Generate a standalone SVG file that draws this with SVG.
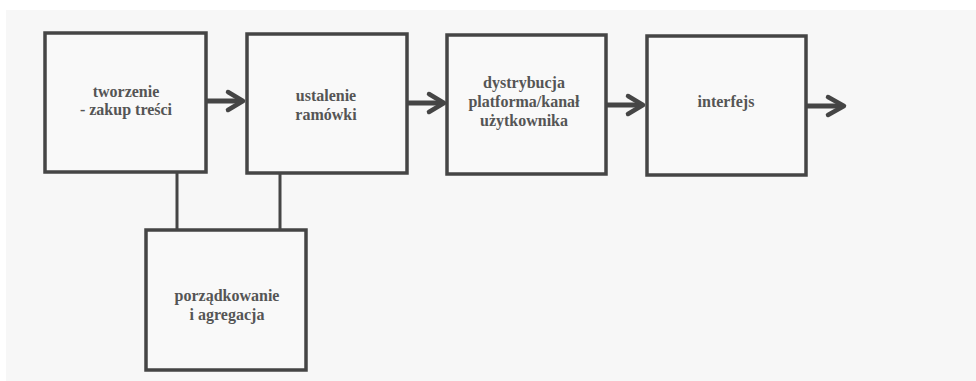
<svg xmlns="http://www.w3.org/2000/svg" width="976" height="381" viewBox="0 0 976 381">
<defs>
<style>
.box{fill:#f9f9f9;stroke:#454545;stroke-width:3.5}
.ln{stroke:#454545;stroke-width:3;fill:none}
.sh{stroke:#454545;stroke-width:5;fill:none}
.hd{stroke:#454545;stroke-width:4.5;fill:none;stroke-linecap:round;stroke-linejoin:round}
</style>
</defs>
<rect x="0" y="0" width="976" height="381" fill="#ffffff"/>
<rect x="6" y="10" width="970" height="371" fill="#f7f7f7"/>
<g id="connectors">
<line class="ln" x1="177" y1="172" x2="177" y2="230"/>
<line class="ln" x1="280" y1="173" x2="280" y2="230"/>
<line class="sh" x1="207" y1="101" x2="240" y2="101"/>
<polyline class="hd" points="228,92 243,101 228,110"/>
<line class="sh" x1="408" y1="103" x2="441" y2="103"/>
<polyline class="hd" points="429,94 444,103 429,112"/>
<line class="sh" x1="607" y1="105" x2="640" y2="105"/>
<polyline class="hd" points="628,96 643,105 628,114"/>
<line class="sh" x1="807" y1="106" x2="840" y2="106"/>
<polyline class="hd" points="828,97 844,106 828,115"/>
</g>
<g id="n1">
<rect class="box" x="45" y="33" width="161" height="139"/>
<text x="126" y="97" font-family="Liberation Serif" font-weight="bold" font-size="16" fill="#555" text-anchor="middle">tworzenie</text>
<text x="126" y="115" font-family="Liberation Serif" font-weight="bold" font-size="16" fill="#555" text-anchor="middle">- zakup treści</text>
</g>
<g id="n2">
<rect class="box" x="247" y="34" width="160" height="139"/>
<text x="326" y="101" font-family="Liberation Serif" font-weight="bold" font-size="16" fill="#555" text-anchor="middle">ustalenie</text>
<text x="326" y="120" font-family="Liberation Serif" font-weight="bold" font-size="16" fill="#555" text-anchor="middle">ramówki</text>
</g>
<g id="n3">
<rect class="box" x="447" y="35" width="159" height="139"/>
<text x="524" y="88" font-family="Liberation Serif" font-weight="bold" font-size="16" fill="#555" text-anchor="middle">dystrybucja</text>
<text x="524" y="107" font-family="Liberation Serif" font-weight="bold" font-size="16" fill="#555" text-anchor="middle">platforma/kanał</text>
<text x="524" y="126" font-family="Liberation Serif" font-weight="bold" font-size="16" fill="#555" text-anchor="middle">użytkownika</text>
</g>
<g id="n4">
<rect class="box" x="647" y="36" width="159" height="139"/>
<text x="726" y="107" font-family="Liberation Serif" font-weight="bold" font-size="16" fill="#555" text-anchor="middle">interfejs</text>
</g>
<g id="n5">
<rect class="box" x="146" y="230" width="160" height="140"/>
<text x="227" y="301" font-family="Liberation Serif" font-weight="bold" font-size="16" fill="#555" text-anchor="middle">porządkowanie</text>
<text x="227" y="320" font-family="Liberation Serif" font-weight="bold" font-size="16" fill="#555" text-anchor="middle">i agregacja</text>
</g>
</svg>
